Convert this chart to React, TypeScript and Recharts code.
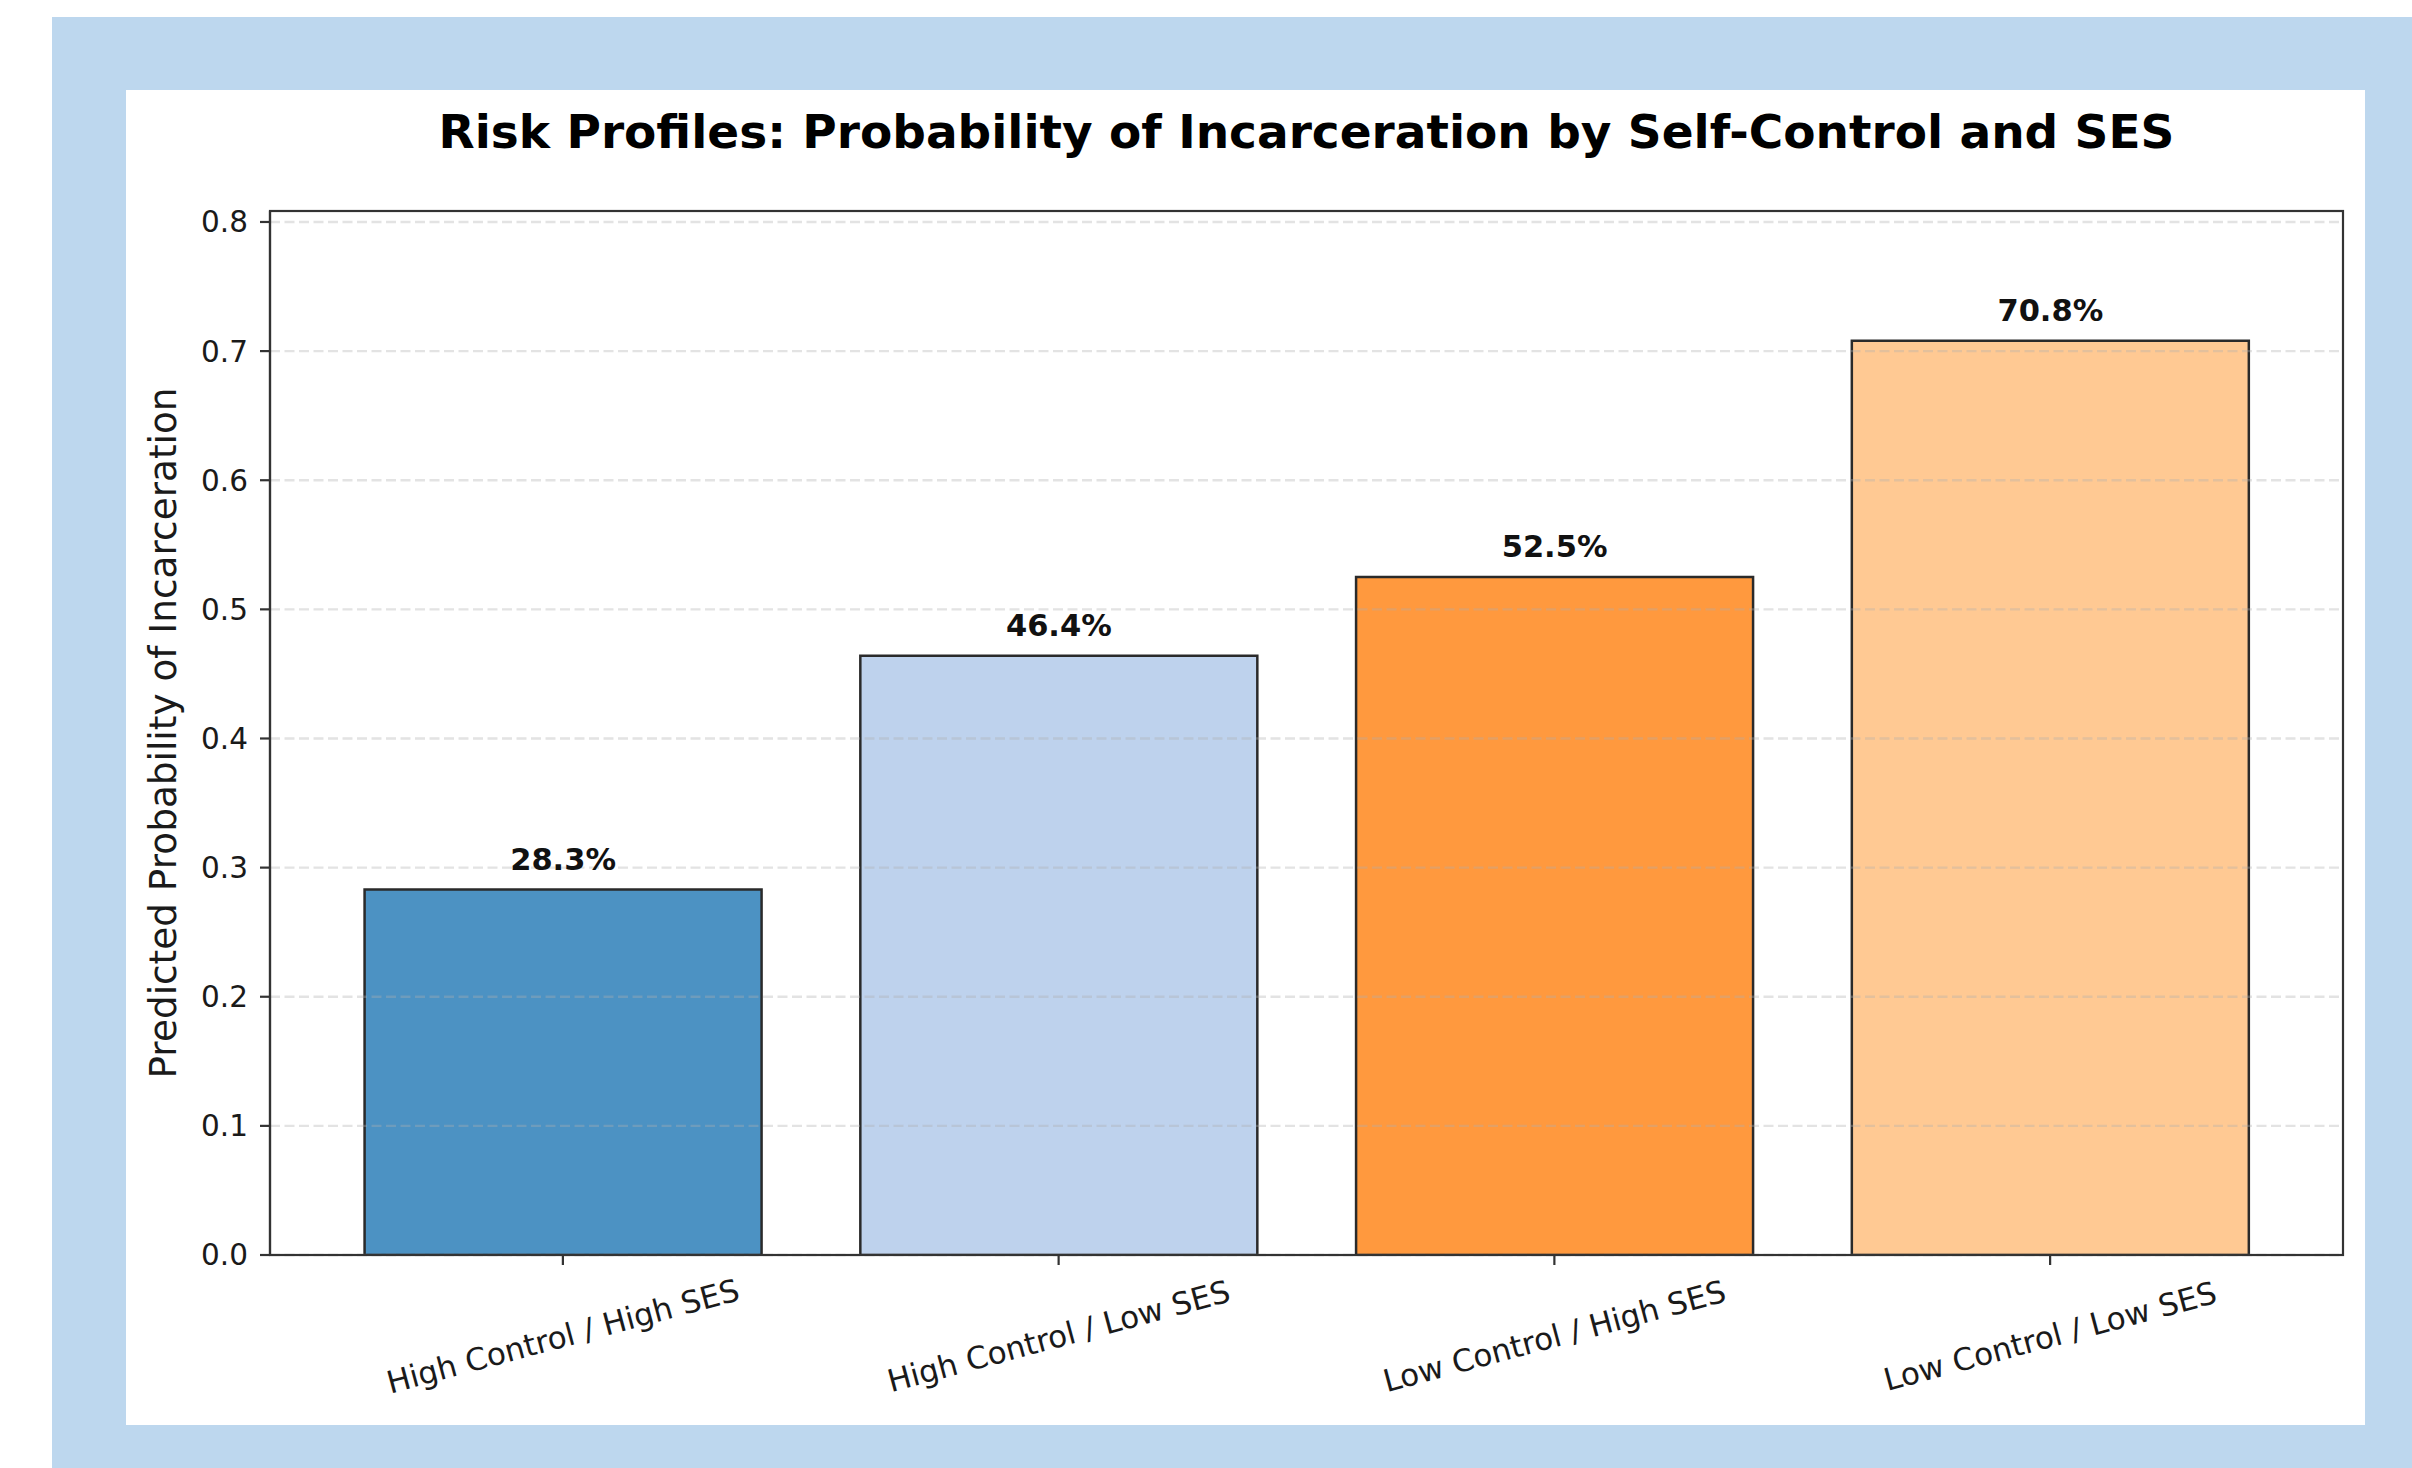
import React from "react";
import { BarChart, Bar, XAxis, YAxis, Cell, LabelList, ReferenceLine } from "recharts";

const categories = [
  "High Control / High SES",
  "High Control / Low SES",
  "Low Control / High SES",
  "Low Control / Low SES",
];
const probabilities = [0.283, 0.464, 0.525, 0.708];
const barColors = ["#4c92c3", "#bed2ed", "#ff993e", "#ffc993"];
const yTicks = [0, 0.1, 0.2, 0.3, 0.4, 0.5, 0.6, 0.7, 0.8];
const yDomain = [0, 0.8085];
const titleText = "Risk Profiles: Probability of Incarceration by Self-Control and SES";
const yLabelText = "Predicted Probability of Incarceration";

const data = categories.map((c, i) => ({ category: c, value: probabilities[i] }));

const FONT = "'DejaVu Sans', sans-serif";
const W = 2412;
const H = 1468;
const PLOT_LEFT = 270;
const PLOT_RIGHT = 2343;
const PLOT_TOP = 211;
const PLOT_BOTTOM = 1255;
const Y_AXIS_W = 100;
const X_AXIS_H = 130;

const XTick = (props: any) => {
  const { x, payload } = props;
  const cy = PLOT_BOTTOM + 81;
  return (
    <text
      x={x}
      y={cy}
      textAnchor="middle"
      dominantBaseline="central"
      transform={`rotate(-15, ${x}, ${cy})`}
      fontFamily={FONT}
      fontSize={31}
      fill="#1a1a1a"
    >
      {payload.value}
    </text>
  );
};

const BarValueLabel = (props: any) => {
  const { x, y, width, value } = props;
  return (
    <text
      x={x + width / 2}
      y={y - 20}
      textAnchor="middle"
      fontFamily={FONT}
      fontSize={30.5}
      fontWeight="bold"
      fill="#111"
    >
      {(value * 100).toFixed(1) + "%"}
    </text>
  );
};

export default function App() {
  return (
    <div style={{ position: "absolute", left: 0, top: 0, width: W, height: H }}>
      <div style={{ position: "absolute", left: 52, top: 17, width: W - 52, height: H - 17, background: "#bdd7ee" }} />
      <div style={{ position: "absolute", left: 126, top: 90, width: 2365 - 126, height: 1425 - 90, background: "#ffffff" }} />
      <div style={{ position: "absolute", left: 0, top: 0 }}>
        <BarChart
          width={W}
          height={H}
          data={data}
          margin={{
            top: PLOT_TOP,
            left: PLOT_LEFT - Y_AXIS_W,
            right: W - PLOT_RIGHT,
            bottom: H - PLOT_BOTTOM - X_AXIS_H,
          }}
          barCategoryGap="10%"
        >
          <XAxis
            dataKey="category"
            interval={0}
            height={X_AXIS_H}
            padding={{ left: 45, right: 45 }}
            tickSize={10}
            tick={<XTick />}
            axisLine={{ stroke: "#333", strokeWidth: 2.2 }}
            tickLine={{ stroke: "#333", strokeWidth: 2.2 }}
          />
          <YAxis
            type="number"
            domain={yDomain}
            ticks={yTicks}
            width={Y_AXIS_W}
            tickSize={10}
            tickMargin={12}
            tickFormatter={(v: number) => v.toFixed(1)}
            tick={{ fontFamily: FONT, fontSize: 29.5, fill: "#1a1a1a" }}
            axisLine={{ stroke: "#333", strokeWidth: 2.2 }}
            tickLine={{ stroke: "#333", strokeWidth: 2.2 }}
            allowDataOverflow
          />
          <Bar dataKey="value" isAnimationActive={false} stroke="#2a2a2a" strokeWidth={2.5}>
            {data.map((d, i) => (
              <Cell key={d.category} fill={barColors[i]} />
            ))}
            <LabelList dataKey="value" content={<BarValueLabel />} />
          </Bar>
          {yTicks.map((t) => (
            <ReferenceLine
              key={t}
              y={t}
              stroke="#b0b0b0"
              strokeOpacity={0.35}
              strokeWidth={2.4}
              strokeDasharray="10 4.5"
            />
          ))}
        </BarChart>
      </div>
      <svg
        width={W}
        height={H}
        style={{ position: "absolute", left: 0, top: 0, pointerEvents: "none" }}
      >
        <rect
          x={PLOT_LEFT}
          y={PLOT_TOP}
          width={PLOT_RIGHT - PLOT_LEFT}
          height={PLOT_BOTTOM - PLOT_TOP}
          fill="none"
          stroke="#333"
          strokeWidth={2.2}
        />
        <text
          x={(PLOT_LEFT + PLOT_RIGHT) / 2}
          y={148}
          textAnchor="middle"
          fontFamily={FONT}
          fontSize={47}
          fontWeight="bold"
          fill="#000"
        >
          {titleText}
        </text>
        <text
          x={176}
          y={733}
          transform="rotate(-90, 176, 733)"
          textAnchor="middle"
          fontFamily={FONT}
          fontSize={37.4}
          fill="#1a1a1a"
        >
          {yLabelText}
        </text>
      </svg>
    </div>
  );
}
